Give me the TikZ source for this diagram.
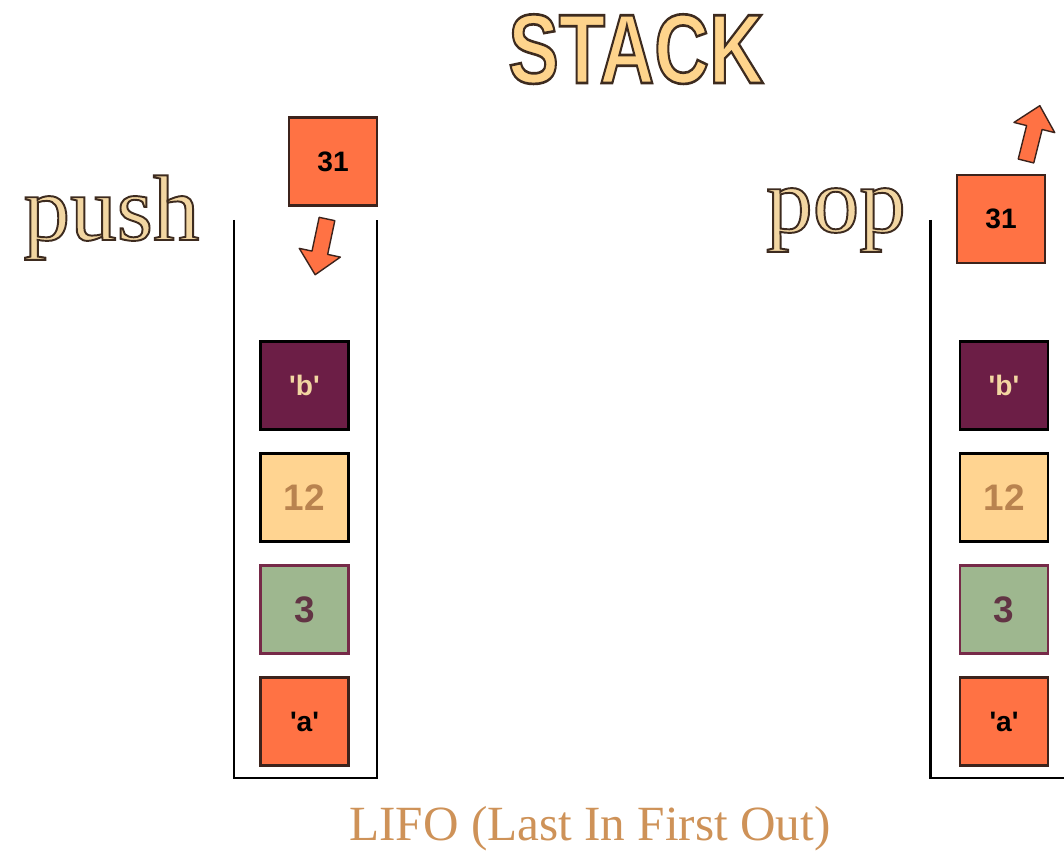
\documentclass[tikz,border=0pt]{standalone}
\usepackage{fontspec}
\setmainfont{Liberation Serif}
\newfontfamily\boxfont{Liberation Sans}
\usetikzlibrary{positioning}

\definecolor{stackorange}{RGB}{255,114,68}
\definecolor{stackplum}{RGB}{108,30,70}
\definecolor{stacktan}{RGB}{255,212,145}
\definecolor{stacksage}{RGB}{158,183,143}
\definecolor{plumline}{RGB}{118,42,72}
\definecolor{plumtext}{RGB}{98,52,68}
\definecolor{boxline}{RGB}{60,35,28}
\definecolor{titlefill}{RGB}{254,212,140}
\definecolor{wordfill}{RGB}{242,214,162}
\definecolor{lifotext}{RGB}{206,146,88}

% text with a dark outline (fill + stroke render mode)
\newcommand{\outlinetext}[2]{\special{pdf:literal direct 2 Tr #1 w 0.24 0.17 0.12 RG}#2\special{pdf:literal direct 0 Tr}}

\begin{document}
\begin{tikzpicture}[
    item/.style={draw=black, line width=1.5pt, minimum size=1.76cm, inner sep=0pt, outer sep=0pt,
      font=\boxfont\bfseries\fontsize{16}{16}\selectfont},
    bigitem/.style={item, font=\boxfont\bfseries\fontsize{21}{21}\selectfont},
    wall/.style={line width=1.7pt},
    blockarrow/.style={fill=stackorange, draw=boxline, line width=0.8pt, line join=round},
    node distance=0.48cm]
        \useasboundingbox (0,0) rectangle (21.28,17.12);
        \clip (0,0) rectangle (21.28,17.12);

        % title and labels
        \node[anchor=base, text=titlefill, font=\boxfont\bfseries\fontsize{56}{56}\selectfont] (title) at (12.72,15.46) {\scalebox{0.77}[1]{\outlinetext{1.5}{STACK}}};
        \node[anchor=base, text=wordfill, font=\fontsize{53}{53}\selectfont] (pushlabel) at (2.23,12.32) {\outlinetext{1.1}{push}};
        \node[anchor=base, text=wordfill, font=\fontsize{53}{53}\selectfont] (poplabel) at (16.72,12.48) {\outlinetext{1.1}{pop}};
        \node[anchor=base, text=lifotext, font=\fontsize{28}{28}\selectfont] (lifo) at (11.8,0.32) {LIFO (Last In First Out)};

        % push stack
        \draw[wall] (4.68,12.72) -- (4.68,1.56) -- (7.54,1.56) -- (7.54,12.72);
        \node[item, fill=stackorange, draw=boxline, text=black] (push31) at (6.66,13.89) {31};
        \node[item, fill=stackplum, text=wordfill] (pushb) at (6.09,9.41) {\textquotesingle b\textquotesingle};
        \node[bigitem, fill=stacktan, text=lifotext!90!black, below=of pushb] (push12) {12};
        \node[bigitem, fill=stacksage, draw=plumline, text=plumtext, below=of push12] (push3) {3};
        \node[item, fill=stackorange, draw=boxline, text=black, below=of push3] (pusha) {\textquotesingle a\textquotesingle};
        \coordinate (pushtail) at (6.54,12.74);
        \filldraw[blockarrow, shift={(pushtail)}, rotate=-102]
            (0,-0.16) -- (0.69,-0.16) -- (0.69,-0.42) -- (1.14,0) -- (0.69,0.42) -- (0.69,0.16) -- (0,0.16) -- cycle;

        % pop stack
        \draw[wall] (18.6,12.72) -- (18.6,1.56) -- (21.46,1.56) -- (21.46,12.72);
        \node[item, fill=stackorange, draw=boxline, text=black] (pop31) at (20.02,12.74) {31};
        \node[item, fill=stackplum, text=wordfill] (popb) at (20.08,9.41) {\textquotesingle b\textquotesingle};
        \node[bigitem, fill=stacktan, text=lifotext!90!black, below=of popb] (pop12) {12};
        \node[bigitem, fill=stacksage, draw=plumline, text=plumtext, below=of pop12] (pop3) {3};
        \node[item, fill=stackorange, draw=boxline, text=black, below=of pop3] (popa) {\textquotesingle a\textquotesingle};
        \coordinate (poptail) at (20.52,13.90);
        \filldraw[blockarrow, shift={(poptail)}, rotate=76]
            (0,-0.16) -- (0.69,-0.16) -- (0.69,-0.42) -- (1.14,0) -- (0.69,0.42) -- (0.69,0.16) -- (0,0.16) -- cycle;
\end{tikzpicture}
\end{document}
